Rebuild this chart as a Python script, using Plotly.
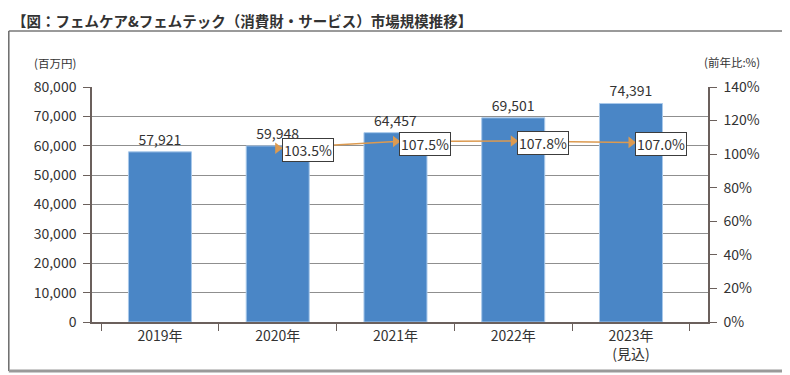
import plotly.graph_objects as go

# ---- data ----
categories = ["2019年", "2020年", "2021年", "2022年", "2023年<br>(見込)"]
market_size = [57921, 59948, 64457, 69501, 74391]          # 百万円
yoy_growth = [None, 103.5, 107.5, 107.8, 107.0]              # 前年比 %
y_ticks = [0, 10000, 20000, 30000, 40000, 50000, 60000, 70000, 80000]
y2_ticks = [0, 20, 40, 60, 80, 100, 120, 140]
y2_labels = ["0%", "20%", "40%", "60%", "80%", "100%", "120%", "140%"]

title_text = "【図：フェムケア&フェムテック（消費財・サービス）市場規模推移】"
left_unit = "(百万円)"
right_unit = "(前年比:%)"

# ---- layout geometry (pixels, in screen coordinates) ----
OFF = 8                      # page body margin of the browser
W, H = 790 - OFF, 375 - OFF
PL, PR, PT, PB = 92, 708, 87, 322


def px_x(px):
    return (px - PL) / (PR - PL)


def px_y(py):
    return (PB - py) / (PB - PT)


FONT = "Noto Sans CJK JP, Noto Sans, sans-serif"
TXT = "#333333"
AXIS = "#6b605c"
GRID = "#8f8f8f"
BAR = "#4a86c6"
LINE = "#dc9a50"

fig = go.Figure()

fig.add_trace(go.Bar(
    x=categories, y=market_size,
    marker=dict(color=BAR, line=dict(color="#a8c8ea", width=1)),
    width=0.535,
    text=[f"{v:,}" for v in market_size],
    textposition="outside",
    textfont=dict(size=14, color=TXT, family=FONT),
    cliponaxis=False,
    showlegend=False,
    yaxis="y",
))

fig.add_trace(go.Scatter(
    x=categories, y=yoy_growth,
    mode="lines+markers",
    line=dict(color=LINE, width=1.5),
    marker=dict(symbol="triangle-right", size=10, color=LINE),
    showlegend=False,
    yaxis="y2",
    cliponaxis=False,
))

annotations = []
for c, g in zip(categories, yoy_growth):
    if g is None:
        continue
    annotations.append(dict(
        x=c, y=g, xref="x", yref="y2",
        text=f"{g:.1f}%", showarrow=False,
        xanchor="left", yanchor="middle", xshift=4, yshift=-2,
        font=dict(size=14, color=TXT, family=FONT),
        bgcolor="white", bordercolor="#3c3c3c", borderwidth=1, borderpad=1,
    ))

annotations += [
    dict(x=px_x(10), y=px_y(8.5), xref="paper", yref="paper", text=f"<b>{title_text}</b>",
         showarrow=False, xanchor="left", yanchor="top",
         font=dict(size=14.5, color="#333333", family=FONT)),
    dict(x=px_x(55), y=px_y(63), xref="paper", yref="paper", text=left_unit,
         showarrow=False, xanchor="center", yanchor="middle",
         font=dict(size=11.5, color=TXT, family=FONT)),
    dict(x=px_x(732), y=px_y(62), xref="paper", yref="paper", text=right_unit,
         showarrow=False, xanchor="center", yanchor="middle",
         font=dict(size=11.5, color=TXT, family=FONT)),
]

shapes = [
    # frame
    dict(type="line", xref="paper", yref="paper", x0=px_x(8.8), x1=px_x(783), y0=px_y(31), y1=px_y(31),
         line=dict(color="#9a9a9a", width=2)),
    dict(type="line", xref="paper", yref="paper", x0=px_x(8.8), x1=px_x(8.8), y0=px_y(31), y1=px_y(371),
         line=dict(color="#6a6a6a", width=1.5)),
    dict(type="line", xref="paper", yref="paper", x0=px_x(783), x1=px_x(783), y0=px_y(31), y1=px_y(371),
         line=dict(color="#6a6a6a", width=1.5)),
    dict(type="line", xref="paper", yref="paper", x0=px_x(8.8), x1=px_x(784), y0=px_y(371), y1=px_y(371),
         line=dict(color="#9a9a9a", width=3)),
]

fig.update_layout(
    width=W, height=H,
    margin=dict(l=PL - OFF, r=W - (PR - OFF), t=PT - OFF, b=H - (PB - OFF), autoexpand=False),
    paper_bgcolor="white", plot_bgcolor="white",
    font=dict(family=FONT, size=14, color=TXT),
    showlegend=False,
    annotations=annotations,
    shapes=shapes,
    xaxis=dict(
        type="category", range=[-0.577, 4.654], automargin=False,
        showline=True, linecolor=AXIS, linewidth=1.5,
        ticks="outside", tickson="boundaries", ticklen=7, tickcolor=AXIS,
        tickfont=dict(size=14, color=TXT, family=FONT),
        showgrid=False, zeroline=False,
    ),
    yaxis=dict(
        range=[0, 80000], tickvals=y_ticks, tickformat=",", automargin=False,
        showline=True, linecolor=AXIS, linewidth=1.5,
        ticks="outside", ticklen=7, tickcolor=AXIS,
        ticklabelstandoff=4,
        showgrid=True, gridcolor=GRID, gridwidth=1,
        zeroline=False,
        tickfont=dict(size=14, color=TXT, family=FONT),
    ),
    yaxis2=dict(
        range=[0, 140], tickvals=y2_ticks, ticktext=y2_labels, automargin=False,
        overlaying="y", side="right",
        showline=True, linecolor=AXIS, linewidth=1.5,
        ticks="outside", ticklen=7, tickcolor=AXIS,
        ticklabelstandoff=4,
        showgrid=False, zeroline=False,
        tickfont=dict(size=14, color=TXT, family=FONT),
    ),
)

fig.write_html("out.html")
